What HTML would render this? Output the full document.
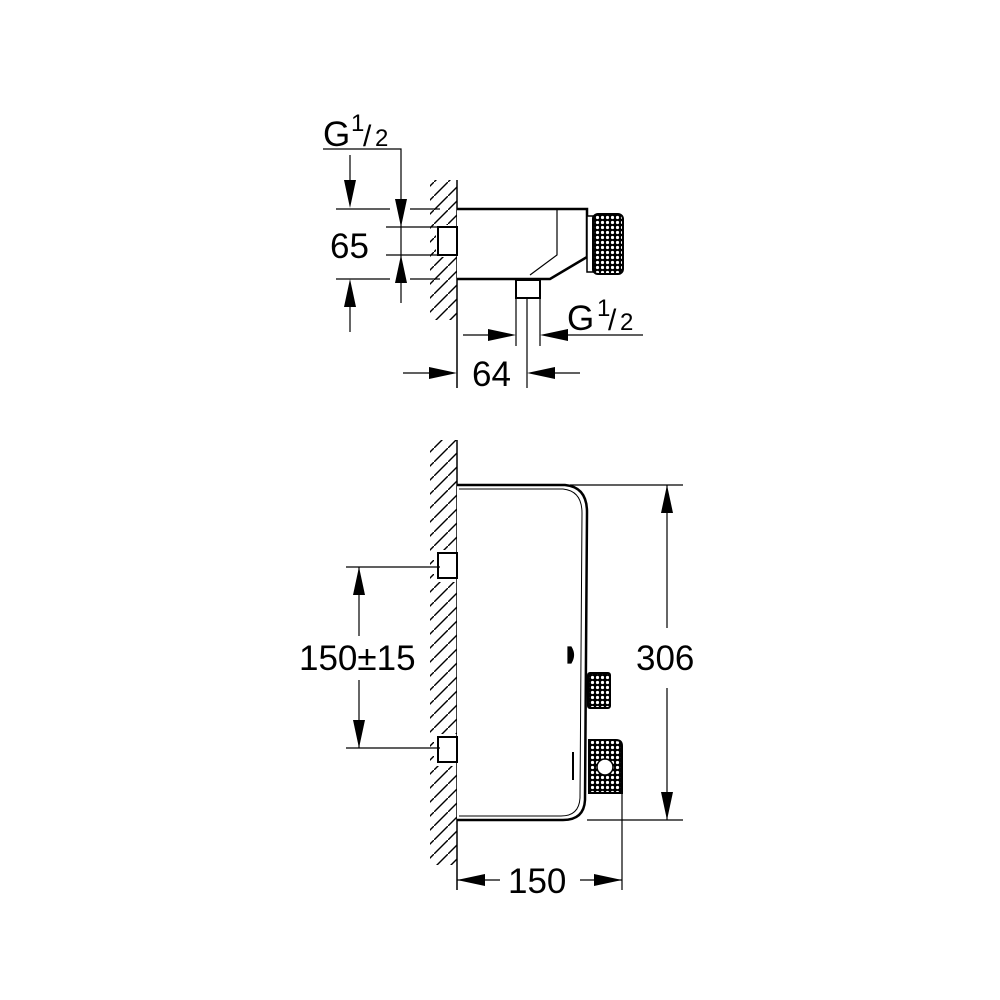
<!DOCTYPE html>
<html><head><style>html,body{margin:0;padding:0;background:#fff}svg{display:block}</style></head><body>
<svg width="1000" height="1000" viewBox="0 0 1000 1000" xmlns="http://www.w3.org/2000/svg" font-family="Liberation Sans, sans-serif">
<defs>
<pattern id="hatch" width="14" height="14" patternUnits="userSpaceOnUse">
<path d="M-2,16 L16,-2" stroke="#000" stroke-width="1.4"/>
</pattern>
<pattern id="knurl" width="5" height="5" patternUnits="userSpaceOnUse">
<rect width="5" height="5" fill="#000"/><circle cx="2.5" cy="2.5" r="1.6" fill="#fff"/>
</pattern>
</defs>
<g stroke="#000" fill="none" stroke-width="1.2">
<!-- TOP VIEW -->
<rect x="430" y="180" width="27" height="140" fill="url(#hatch)" stroke="none"/>
<rect x="436" y="225" width="22" height="32" fill="#fff" stroke="none"/>
<line x1="457" y1="180" x2="457" y2="388" stroke-width="1.5"/>
<path d="M457,209 L587,209 L587,257 L550,279 L457,279" stroke-width="2.5" fill="#fff"/>
<path d="M557,209 L557,255 L530,275" />
<rect x="587" y="216" width="6" height="56" fill="#fff" stroke-width="1.5"/>
<rect x="593" y="214" width="30" height="60" rx="5" fill="url(#knurl)" stroke-width="2"/>
<rect x="438" y="227" width="19" height="28" fill="#fff" stroke-width="2"/>
<rect x="516" y="280" width="24" height="18" fill="#fff" stroke-width="2"/>
<line x1="516" y1="298" x2="516" y2="346"/>
<line x1="540" y1="298" x2="540" y2="346"/>
<line x1="527" y1="298" x2="527" y2="388"/>
<polyline points="323,149 401,149 401,303"/>
<line x1="336" y1="209" x2="390" y2="209"/><line x1="410" y1="209" x2="440" y2="209"/>
<line x1="386" y1="227" x2="438" y2="227"/>
<line x1="386" y1="255" x2="438" y2="255"/>
<line x1="336" y1="279" x2="390" y2="279"/><line x1="410" y1="279" x2="440" y2="279"/>
<line x1="350" y1="155" x2="350" y2="195"/>
<line x1="350" y1="295" x2="350" y2="332"/>
<line x1="463" y1="335" x2="505" y2="335"/>
<line x1="552" y1="335" x2="643" y2="335"/>
<line x1="403" y1="373" x2="445" y2="373"/>
<line x1="540" y1="373" x2="580" y2="373"/>
<!-- BOTTOM VIEW -->
<rect x="430" y="440" width="27" height="425" fill="url(#hatch)" stroke="none"/>
<rect x="434" y="550" width="24" height="32" fill="#fff" stroke="none"/>
<rect x="434" y="734" width="24" height="32" fill="#fff" stroke="none"/>
<line x1="457" y1="440" x2="457" y2="890" stroke-width="1.5"/>
<path d="M457,485 L565,485 Q587,487 587,512 L585,800 Q584,820 563,820 L457,820" stroke-width="2.5" fill="#fff"/>
<path d="M459,489 L563,489 Q582,491 582,513 L580,798 Q579,816 561,816 L459,816" stroke-width="1"/>
<rect x="438" y="553" width="19" height="25" fill="#fff" stroke-width="2"/>
<rect x="438" y="737" width="19" height="25" fill="#fff" stroke-width="2"/>
<rect x="588" y="673" width="22" height="35" rx="2" fill="url(#knurl)" stroke-width="2"/>
<path d="M589,740 L616,740 Q622,740 622,746 L622,793 L589,793 Z" fill="url(#knurl)" stroke-width="2"/>
<circle cx="605" cy="767" r="8" fill="#fff" stroke="#000" stroke-width="1.5"/>
<path d="M568,647 L571,647 Q576,655 571,663 L568,663 Z" fill="#000"/>
<line x1="573" y1="752" x2="573" y2="780" stroke-width="2"/>
<line x1="570" y1="485" x2="683" y2="485"/>
<line x1="587" y1="820" x2="683" y2="820"/>
<line x1="667" y1="485" x2="667" y2="628"/>
<line x1="667" y1="688" x2="667" y2="820"/>
<line x1="622" y1="793" x2="622" y2="890"/>
<line x1="457" y1="880" x2="500" y2="880"/>
<line x1="580" y1="880" x2="622" y2="880"/>
<line x1="346" y1="567" x2="440" y2="567"/>
<line x1="346" y1="748" x2="440" y2="748"/>
<line x1="359" y1="567" x2="359" y2="636"/>
<line x1="359" y1="680" x2="359" y2="748"/>
</g>
<g fill="#000">
<polygon points="344,180 356,180 350,208"/>
<polygon points="395,199 407,199 401,227"/>
<polygon points="395,283 407,283 401,255"/>
<polygon points="344,307 356,307 350,279"/>
<polygon points="488,329 488,341 516,335"/>
<polygon points="568,329 568,341 540,335"/>
<polygon points="429,367 429,379 457,373"/>
<polygon points="555,367 555,379 527,373"/>
<polygon points="661,513 673,513 667,485"/>
<polygon points="661,792 673,792 667,820"/>
<polygon points="485,874 485,886 457,880"/>
<polygon points="594,874 594,886 622,880"/>
<polygon points="353,595 365,595 359,567"/>
<polygon points="353,720 365,720 359,748"/>
</g>
<g fill="#000" font-size="35">
<text x="323" y="146">G</text>
<text x="351" y="131" font-size="24">1</text>
<text x="363" y="146" font-size="30">/</text>
<text x="375" y="146" font-size="24">2</text>
<text x="330" y="258">65</text>
<text x="567" y="330">G</text>
<text x="597" y="316" font-size="24">1</text>
<text x="608" y="330" font-size="30">/</text>
<text x="620" y="330" font-size="24">2</text>
<text x="472" y="386">64</text>
<text x="636" y="670">306</text>
<text x="508" y="893">150</text>
<text x="299" y="670">150±15</text>
</g>
</svg>
</body></html>
